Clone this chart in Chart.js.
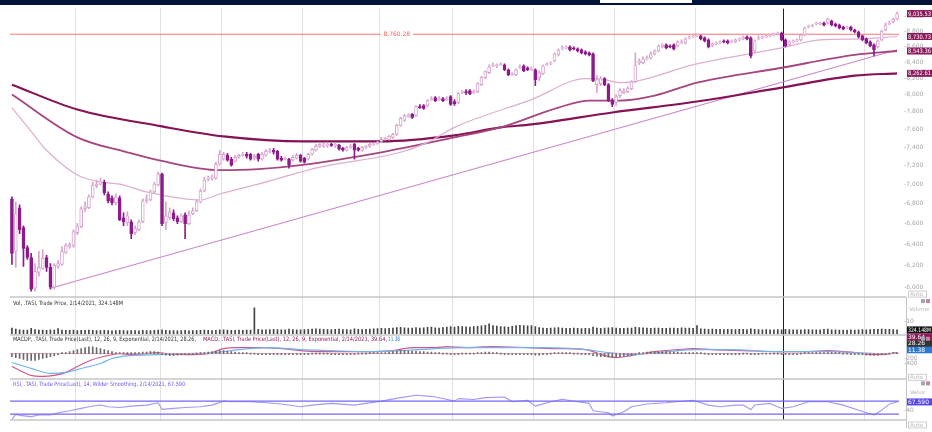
<!DOCTYPE html>
<html>
<head>
<meta charset="utf-8">
<title>.TASI daily</title>
<script src="https://cdn.jsdelivr.net/npm/chart.js@4.4.1/dist/chart.umd.min.js"></script>
<style>
  html, body { margin: 0; padding: 0; background: #fff; }
  #box { position: relative; width: 932px; height: 432px; overflow: hidden; }
  #chart { display: block; }
  #bar { position: absolute; left: 0; top: 0; width: 932px; height: 5px; background: #02133a; }
  #tab { position: absolute; left: 600px; top: 0; width: 92px; height: 3px; background: #fff; }
</style>
</head>
<body>
<div id="box">
  <canvas id="chart" width="932" height="432"></canvas>
  <div id="bar"></div><div id="tab"></div>
</div>
<script>
// .TASI daily candles, Mar 2020 - 2/14/2021
var open = [6848,6330,6757,6559,6367,6273,5991,6135,6172,6273,
 6181,6000,6190,6208,6320,6377,6386,6510,6569,6747,
 6757,6868,6981,7001,7022,6898,6858,6807,6858,6657,
 6608,6617,6510,6539,6617,6827,6837,6919,6991,7106,
 6608,6657,6707,6657,6617,6687,6598,6697,6727,6817,
 6929,7053,7064,7064,7212,7266,7310,7266,7245,7288,
 7310,7321,7321,7277,7321,7266,7310,7353,7364,7353,
 7277,7266,7266,7256,7277,7310,7277,7266,7321,7364,
 7408,7408,7419,7430,7419,7419,7386,7364,7397,7430,
 7386,7364,7397,7408,7430,7441,7463,7486,7486,7508,
 7542,7643,7701,7747,7770,7758,7862,7874,7874,7944,
 7968,7944,7956,7944,7980,7921,7909,8028,8040,8052,
 8028,8040,8124,8209,8271,8357,8357,8369,8369,8307,
 8246,8246,8332,8357,8332,8307,8307,8209,8258,8369,
 8381,8419,8494,8571,8583,8596,8583,8571,8558,8532,
 8520,8507,8124,8136,8197,8124,7933,7909,7992,8028,
 8040,8076,8161,8394,8394,8444,8457,8507,8545,8596,
 8622,8609,8622,8609,8647,8647,8712,8725,8738,8738,
 8712,8686,8609,8634,8647,8673,8673,8660,8660,8686,
 8699,8725,8712,8545,8699,8712,8725,8738,8751,8764,
 8777,8686,8622,8660,8673,8686,8751,8856,8869,8896,
 8896,8909,8909,8935,8896,8882,8856,8843,8856,8816,
 8790,8738,8699,8660,8622,8596,8686,8816,8896,8922,8962];
var high = [6868,6817,6787,6578,6386,6311,6217,6330,6348,6292,
 6217,6217,6246,6377,6405,6415,6539,6598,6767,6817,
 6888,7022,7043,7064,7043,6919,6878,6898,6878,6707,
 6717,6637,6578,6637,6848,6888,6939,7022,7127,7117,
 6817,6757,6737,6677,6697,6707,6727,6757,6837,6950,
 7075,7085,7096,7234,7364,7342,7331,7288,7310,7321,
 7342,7342,7331,7321,7331,7342,7375,7386,7386,7364,
 7299,7288,7277,7310,7331,7321,7288,7331,7386,7430,
 7452,7441,7452,7441,7452,7430,7397,7408,7430,7441,
 7397,7408,7419,7441,7452,7463,7508,7508,7530,7553,
 7655,7735,7770,7781,7781,7874,7886,7886,7944,7980,
 7980,7980,7968,7980,7992,7944,8028,8052,8064,8064,
 8064,8148,8222,8295,8369,8394,8381,8394,8381,8320,
 8271,8320,8369,8369,8344,8344,8320,8295,8369,8394,
 8406,8520,8571,8609,8609,8609,8596,8583,8571,8545,
 8532,8520,8234,8222,8209,8136,7956,8004,8076,8076,
 8100,8173,8520,8444,8469,8482,8532,8558,8622,8634,
 8634,8622,8634,8673,8686,8712,8738,8751,8764,8751,
 8725,8699,8647,8660,8673,8686,8686,8686,8699,8712,
 8738,8738,8725,8686,8738,8738,8751,8764,8777,8790,
 8790,8699,8673,8686,8699,8764,8856,8882,8896,8922,
 8922,8922,8975,8949,8909,8896,8869,8869,8869,8829,
 8803,8751,8712,8673,8634,8686,8816,8909,8935,8975,9055];
var low = [6208,6181,6500,6190,6255,5964,5964,6099,6162,6144,
 5982,5982,6172,6199,6311,6358,6367,6491,6559,6717,
 6747,6858,6960,6991,6888,6807,6787,6787,6627,6578,
 6578,6453,6491,6530,6608,6807,6827,6909,6981,6578,
 6539,6637,6627,6598,6608,6453,6588,6687,6717,6807,
 6919,7033,7043,7053,7202,7256,7245,7191,7234,7277,
 7299,7277,7256,7256,7245,7256,7299,7331,7321,7256,
 7245,7256,7170,7245,7266,7234,7223,7256,7310,7353,
 7397,7397,7397,7408,7397,7364,7353,7353,7386,7266,
 7353,7353,7386,7397,7419,7430,7452,7475,7475,7497,
 7530,7632,7689,7735,7724,7747,7839,7827,7862,7933,
 7921,7933,7921,7933,7874,7874,7897,8016,8004,8004,
 8016,8028,8112,8197,8258,8344,8332,8357,8295,8234,
 8234,8234,8320,8283,8295,8295,8112,8173,8246,8357,
 8369,8406,8482,8558,8571,8545,8558,8532,8507,8494,
 8482,8161,8028,8112,8112,7921,7862,7874,7968,8016,
 8028,8064,8148,8369,8381,8431,8444,8494,8532,8583,
 8571,8583,8558,8596,8634,8634,8699,8712,8725,8686,
 8660,8583,8596,8622,8634,8647,8634,8647,8647,8673,
 8686,8686,8457,8520,8686,8699,8712,8725,8738,8751,
 8673,8596,8609,8647,8660,8673,8738,8843,8856,8882,
 8882,8869,8896,8869,8856,8829,8816,8829,8803,8777,
 8712,8673,8634,8596,8482,8583,8673,8803,8882,8909,8949];
var close = [6311,6697,6539,6358,6273,5982,6144,6181,6264,6181,
 6000,6199,6217,6330,6386,6396,6520,6569,6747,6767,
 6868,6991,7001,7033,6909,6827,6807,6868,6637,6617,
 6677,6500,6549,6617,6827,6848,6919,7001,7106,6598,
 6677,6717,6647,6617,6677,6598,6687,6727,6817,6929,
 7043,7064,7075,7212,7321,7321,7256,7202,7288,7310,
 7321,7299,7266,7299,7266,7321,7353,7364,7342,7266,
 7256,7277,7202,7288,7310,7245,7234,7321,7375,7408,
 7430,7419,7430,7419,7430,7375,7364,7397,7408,7364,
 7364,7397,7408,7430,7441,7452,7486,7497,7519,7542,
 7643,7724,7758,7758,7735,7862,7850,7839,7933,7956,
 7933,7956,7933,7956,7886,7897,8016,8040,8028,8016,
 8040,8136,8209,8283,8344,8369,8369,8381,8307,8246,
 8258,8307,8344,8295,8307,8320,8185,8271,8357,8381,
 8394,8507,8558,8583,8596,8558,8571,8545,8520,8507,
 8494,8173,8185,8197,8124,7933,7886,7980,8052,8052,
 8076,8161,8369,8419,8444,8457,8507,8545,8609,8622,
 8583,8596,8571,8660,8660,8699,8725,8738,8751,8699,
 8673,8596,8634,8647,8660,8660,8647,8673,8686,8699,
 8725,8699,8482,8673,8712,8725,8738,8751,8764,8777,
 8686,8609,8660,8673,8686,8751,8843,8869,8882,8909,
 8909,8882,8962,8882,8869,8843,8829,8856,8816,8790,
 8725,8686,8647,8609,8558,8673,8803,8882,8909,8962,9035.53];

// volume in millions
var volume = [480,390,340,300,310,450,360,300,310,290,
 330,310,430,300,290,280,300,270,290,280,
 300,290,270,260,280,270,250,260,280,260,
 250,270,260,250,280,260,270,280,300,330,
 290,270,260,250,260,280,250,260,270,290,
 300,280,270,290,330,320,300,290,280,300,
 290,310,300,2170,380,340,330,350,380,360,
 340,330,400,350,330,340,360,380,400,420,
 400,380,360,350,370,390,360,350,340,420,
 370,360,380,400,420,430,460,440,450,480,
 520,540,500,480,470,520,480,500,540,560,
 500,480,520,560,600,560,620,600,580,560,
 600,620,660,700,830,680,640,600,580,560,
 620,690,700,680,660,690,600,520,480,460,
 470,500,520,480,460,450,470,460,440,450,
 430,560,480,460,470,500,520,480,460,450,
 470,480,560,520,500,480,460,470,480,460,
 450,470,480,460,500,480,470,460,690,420,
 400,380,390,370,380,360,370,380,360,370,
 380,360,420,380,350,340,360,330,340,350,
 320,380,350,330,320,340,360,350,330,320,
 340,380,390,340,320,310,300,310,320,300,
 330,350,340,360,380,370,390,380,370,360,324.148];

// MACD(12,26,9)
var macdHist = [-120,-160,-200,-240,-280,-280,-280,-240,-200,-160,
 -120,-80,-40,20,40,80,120,160,200,240,
 270,270,240,200,160,120,80,40,40,40,
 20,20,40,40,60,60,80,80,60,-40,
 -60,-80,-80,-60,-40,-40,-20,-20,0,20,
 40,60,80,100,120,120,100,80,60,40,
 20,20,0,0,-20,-20,-20,-20,-40,-40,
 -40,-40,-40,-20,-20,-20,-20,-20,0,0,
 0,0,0,-20,-20,-20,-20,-20,-20,-20,
 0,0,0,20,20,20,40,40,60,80,
 100,120,120,100,100,100,80,80,60,60,
 40,20,0,0,-20,-20,-20,0,0,0,
 0,20,40,60,60,40,20,0,-20,-40,
 -40,-40,-40,-40,-40,-40,-60,-60,-40,-20,
 0,20,20,20,20,20,0,0,-20,-20,
 -40,-80,-100,-120,-120,-140,-160,-140,-120,-100,
 -80,-60,-20,20,40,60,60,80,80,80,
 80,60,60,60,40,40,40,40,40,20,
 0,-20,-20,-20,-20,-20,-20,-20,-20,-20,
 0,0,-20,-20,-20,0,0,0,0,0,
 -20,-20,-20,-20,-20,0,20,20,40,40,
 40,40,40,40,20,20,0,0,-20,-20,
 -40,-40,-60,-60,-60,-60,-40,-20,0,20,28.26];
var macdLine = [[0,-520],[2,-680],[5,-880],[8,-920],[11,-880],[14,-760],[17,-520],[21,-240],
 [25,-80],[28,0],[31,-40],[35,0],[38,40],[40,0],[45,-40],[51,0],[55,200],[59,240],[64,240],
 [70,200],[75,120],[80,80],[85,80],[92,80],[99,120],[104,240],[110,240],[113,280],[118,240],
 [125,280],[134,240],[142,200],[149,160],[154,-80],[157,-160],[161,-80],[167,80],[173,160],
 [177,200],[182,160],[190,120],[199,80],[207,80],[212,120],[219,40],[223,-40],[226,-40],[230,39.64]];
var signalLine = [[0,-360],[5,-600],[10,-800],[14,-760],[19,-560],[23,-400],[26,-200],[31,-80],
 [38,-40],[45,0],[53,40],[59,160],[66,240],[75,160],[83,120],[92,80],[101,120],[110,200],
 [118,240],[125,240],[138,240],[149,160],[155,40],[161,-40],[168,40],[177,160],[186,160],
 [199,80],[212,80],[220,40],[226,0],[230,11.38]];

// RSI(14)
var rsiLine = [[0,14],[1,29],[2,26],[5,22],[7,27],[10,27],[12,34],[15,40],[18,47.5],[20,52.5],
 [23,58],[25,52.5],[28,50.5],[31,54.6],[35,57.7],[38,64.8],[39,44.5],[42,47.5],[45,50.5],
 [49,52.5],[52,57.7],[55,70],[57,68],[62,68],[66,65],[70,61],[75,52.5],[78,57.7],[83,63],
 [89,57.7],[92,63],[96,70],[101,81],[105,88.5],[109,85],[112,78],[115,70],[116,78],[120,75],
 [123,81],[128,83],[130,68],[134,73],[136,54.6],[140,68],[143,76],[147,68],[150,63],[151,40],
 [155,34],[156,24],[159,37],[161,52.5],[165,61],[170,65],[177,73],[181,57.7],[184,52.5],
 [188,57.7],[190,58],[192,44],[193,58],[197,63],[200,47.5],[203,52.5],[207,68],[212,68],
 [216,57.7],[220,42],[224,27],[226,42],[228,61],[230,67.59]];
var rsiLevels = [70, 30];

// moving averages and drawn lines
var ma50 = [[0,7850],[5,7575],[9,7364],[17,7096],[23,7022],[28,7001],[35,6919],[49,6837],[54,6898],
 [64,7001],[75,7127],[80,7180],[101,7342],[108,7452],[115,7621],[135,7944],[149,8197],[154,8185],
 [158,8148],[178,8381],[200,8583],[210,8686],[221,8699],[230,8730.73]];
var ma100 = [[0,8004],[17,7508],[30,7342],[38,7256],[54,7148],[64,7159],[75,7202],[96,7342],
 [115,7508],[127,7621],[142,7850],[150,7933],[158,7933],[167,7992],[178,8148],[200,8332],
 [219,8494],[230,8543.36]];
var ma200 = [[0,8124],[17,7827],[39,7632],[55,7519],[76,7463],[96,7463],[115,7530],[127,7621],
 [135,7655],[156,7793],[178,7921],[200,8088],[219,8234],[230,8262.61]];
var trendLine = [[10,5991],[230,8560]];
var resistance = 8760.28;
var resLabelAt = 100;

var monthStarts = [17, 39, 55, 76, 96, 115, 136, 157, 178, 222];
var yearStart = 201;
var lastDate = '2/14/2021';
var priceTicks = [6000,6200,6400,6600,6800,7000,7200,7400,7600,7800,8000,8200,8400,8600,8800,9000];
var volTicks = [1000];
var macdTicks = [-200, -400];
var rsiTicks = [40];

var upCol = '#d8a4cd', downCol = '#8e1b8b';
var xMin = -0.5, xMax = close.length - 0.5;
var last = close.length - 1;

function pts(a) { return a.map(function (p) { return {x: p[0], y: p[1]}; }); }
function level(v) { return [{x: xMin, y: v}, {x: xMax, y: v}]; }
function money(v) { return v.toLocaleString('en-US', {minimumFractionDigits: 2, maximumFractionDigits: 2}); }
function lastOf(a) { return a[a.length - 1][1]; }

var bodies = close.map(function (c, i) { return {x: i, y: [open[i], c]}; });
var wicks = close.map(function (c, i) { return {x: i, y: [low[i], high[i]]}; });
var isUp = close.map(function (c, i) { return c > open[i]; });

Chart.defaults.font.family = '"DejaVu Sans", sans-serif';

var overlay = {
  id: 'overlay',
  beforeDatasetsDraw: function (chart) {
    var ctx = chart.ctx, a = chart.chartArea, s = chart.scales;
    ctx.save();
    ctx.strokeStyle = '#c6c6c6';
    ctx.lineWidth = 1.5;
    ['yPrice', 'yVol', 'yMacd', 'yRsi'].forEach(function (id) {
      var y = Math.round(s[id].bottom);
      ctx.beginPath(); ctx.moveTo(a.left, y); ctx.lineTo(a.right + 7, y); ctx.stroke();
    });
    ctx.lineWidth = 1;
    ctx.beginPath(); ctx.moveTo(a.right + 7.5, s.yVol.top); ctx.lineTo(a.right + 7.5, chart.height - 4); ctx.stroke();
    ctx.restore();
  },
  afterDraw: function (chart) {
    var ctx = chart.ctx, a = chart.chartArea, s = chart.scales;
    var tx = a.right + 8, tw = chart.width - tx;
    ctx.save();
    ctx.textBaseline = 'middle';
    ctx.font = '6px "DejaVu Sans"';

    // resistance label
    var rx = s.x.getPixelForValue(resLabelAt), ry = s.yPrice.getPixelForValue(resistance);
    var rt = money(resistance), rw = ctx.measureText(rt).width + 6;
    ctx.fillStyle = '#fff'; ctx.fillRect(rx - rw / 2, ry - 3, rw, 6);
    ctx.fillStyle = '#ff5c5c'; ctx.textAlign = 'center'; ctx.fillText(rt, rx, ry + 0.5);

    function tag(text, y, bg, fg) {
      ctx.fillStyle = bg; ctx.fillRect(tx, y - 3.5, tw, 7);
      ctx.fillStyle = fg; ctx.textAlign = 'left';
      ctx.fillText(text, tx + 1, y + 0.5, tw - 2);
    }
    tag(money(close[last]), s.yPrice.getPixelForValue(close[last]), '#8a1a5c', '#fff');
    tag(money(lastOf(ma50)), s.yPrice.getPixelForValue(lastOf(ma50)), '#8a1a5c', '#fff');
    tag(money(lastOf(ma100)), s.yPrice.getPixelForValue(lastOf(ma100)), '#8a1a5c', '#fff');
    tag(money(lastOf(ma200)), s.yPrice.getPixelForValue(lastOf(ma200)), '#8a1a5c', '#fff');
    tag(volume[last].toFixed(3) + 'M', s.yVol.getPixelForValue(volume[last]), '#111', '#fff');
    var my = s.yMacd.getPixelForValue(lastOf(signalLine)) - 3.5;
    tag(lastOf(signalLine).toFixed(2), my, '#2b79d2', '#fff');
    tag(macdHist[last].toFixed(2), my - 6.5, '#333', '#fff');
    tag(lastOf(macdLine).toFixed(2), my - 13, '#8a1a5c', '#fff');
    tag(lastOf(rsiLine).toFixed(3), s.yRsi.getPixelForValue(lastOf(rsiLine)), '#5544f2', '#fff');

    // panel titles
    function txt(str, x, y, color, maxW) {
      ctx.fillStyle = color; ctx.textAlign = 'left'; ctx.fillText(str, x, y, maxW);
    }
    ctx.font = '6px "DejaVu Sans"';
    txt('Vol, .TASI, Trade Price, ' + lastDate + ', ' + volume[last].toFixed(3) + 'M',
      a.left + 3, s.yVol.top + 6, '#333', 110);
    txt('MACDP, .TASI, Trade Price(Last), 12, 26, 9, Exponential, ' + lastDate + ', ' + macdHist[last].toFixed(2) + ',',
      a.left + 3, s.yMacd.top + 5, '#333', 183);
    txt('MACD, .TASI, Trade Price(Last), 12, 26, 9, Exponential, ' + lastDate + ', ' + lastOf(macdLine).toFixed(2) + ',',
      a.left + 193, s.yMacd.top + 5, '#9a2060', 184);
    txt(lastOf(signalLine).toFixed(2), a.left + 378, s.yMacd.top + 5, '#2b79d2', 12);
    txt('RSI, .TASI, Trade Price(Last), 14, Wilder Smoothing, ' + lastDate + ', ' + lastOf(rsiLine).toFixed(3),
      a.left + 3, s.yRsi.top + 5, '#6a5cf6', 172);

    // right side captions and Auto boxes
    ctx.font = '5.5px "DejaVu Sans"';
    txt('Volume', tx + 2, s.yVol.top + 13, '#b8b8b8', 22);
    txt('Value', tx + 3, s.yRsi.top + 13, '#b8b8b8', 20);
    [s.yPrice.bottom - 3, s.yMacd.bottom - 2, s.yRsi.bottom + 5].forEach(function (y) {
      ctx.strokeStyle = '#cfcfcf'; ctx.lineWidth = 1;
      ctx.strokeRect(tx + 1.5, y - 3, 18, 6);
      txt('Auto', tx + 3, y + 0.5, '#b8b8b8', 16);
    });
    [s.yVol.top + 4, s.yMacd.top + 4, s.yRsi.top + 4].forEach(function (y) {
      ctx.fillStyle = '#9aa6ba'; ctx.fillRect(tx + 14, y - 2, 4, 4);
      ctx.fillStyle = '#c98590'; ctx.fillRect(tx + 19, y - 2, 4, 4);
    });
    ctx.restore();
  }
};

// right axes share one stack; on the right side a lower weight goes on top
function rightAxis(weight, stackWeight, extra) {
  var base = {
    axis: 'y', position: 'right', stack: 'panels', stackWeight: stackWeight, weight: weight,
    border: {display: false},
    grid: {drawOnChartArea: false, drawTicks: false},
    afterFit: function (sc) { sc.width = 33; }
  };
  return Object.assign(base, extra);
}
function tickOpts(cb) {
  return {color: '#a6a6a6', font: {size: 6}, padding: 5, autoSkip: false, callback: cb};
}

var lineBase = {type: 'line', pointRadius: 0, borderJoinStyle: 'round', fill: false};

new Chart(document.getElementById('chart'), {
  type: 'bar',
  data: {
    datasets: [
      {type: 'bar', label: 'body', yAxisID: 'yPrice', data: bodies, grouped: false, order: 0,
        barThickness: 3, minBarLength: 1, borderWidth: 1, borderSkipped: false,
        backgroundColor: isUp.map(function (u) { return u ? '#ffffff' : downCol; }),
        borderColor: isUp.map(function (u) { return u ? upCol : downCol; })},
      {type: 'bar', label: 'wick', yAxisID: 'yPrice', data: wicks, grouped: false, order: 1,
        barThickness: 1, backgroundColor: isUp.map(function (u) { return u ? upCol : downCol; })},
      Object.assign({}, lineBase, {label: 'MA50', yAxisID: 'yPrice', data: pts(ma50), order: 2,
        borderColor: '#dcafcf', borderWidth: 1.2, cubicInterpolationMode: 'monotone'}),
      Object.assign({}, lineBase, {label: 'MA100', yAxisID: 'yPrice', data: pts(ma100), order: 2,
        borderColor: '#a6457f', borderWidth: 1.8, cubicInterpolationMode: 'monotone'}),
      Object.assign({}, lineBase, {label: 'MA200', yAxisID: 'yPrice', data: pts(ma200), order: 2,
        borderColor: '#871253', borderWidth: 2.1, cubicInterpolationMode: 'monotone'}),
      Object.assign({}, lineBase, {label: 'trend', yAxisID: 'yPrice', data: pts(trendLine), order: 2,
        borderColor: '#c988cc', borderWidth: 1.1}),
      Object.assign({}, lineBase, {label: 'res', yAxisID: 'yPrice', data: level(resistance), order: 2,
        borderColor: '#ff7474', borderWidth: 1}),
      {type: 'bar', label: 'vol', yAxisID: 'yVol', grouped: false, barThickness: 1,
        data: volume.map(function (v, i) { return {x: i, y: v}; }), backgroundColor: '#444'},
      {type: 'bar', label: 'hist', yAxisID: 'yMacd', grouped: false, barThickness: 1, minBarLength: 1,
        data: macdHist.map(function (v, i) { return {x: i, y: v}; }), backgroundColor: '#6a6a6a'},
      Object.assign({}, lineBase, {label: 'zero', yAxisID: 'yMacd', data: level(0),
        borderColor: '#f2a6bd', borderWidth: 1}),
      Object.assign({}, lineBase, {label: 'signal', yAxisID: 'yMacd', data: pts(signalLine),
        borderColor: '#72b4ea', borderWidth: 1.2, cubicInterpolationMode: 'monotone'}),
      Object.assign({}, lineBase, {label: 'macd', yAxisID: 'yMacd', data: pts(macdLine),
        borderColor: '#d0568f', borderWidth: 1.2, cubicInterpolationMode: 'monotone'}),
      Object.assign({}, lineBase, {label: 'rsi70', yAxisID: 'yRsi', data: level(rsiLevels[0]),
        borderColor: '#7466f2', borderWidth: 1.2}),
      Object.assign({}, lineBase, {label: 'rsi30', yAxisID: 'yRsi', data: level(rsiLevels[1]),
        borderColor: '#7466f2', borderWidth: 1.2}),
      Object.assign({}, lineBase, {label: 'rsi', yAxisID: 'yRsi', data: pts(rsiLine),
        borderColor: '#a597f6', borderWidth: 1.1})
    ]
  },
  options: {
    responsive: false,
    devicePixelRatio: 1,
    animation: false,
    events: [],
    layout: {padding: {left: 10, top: 5, right: 0, bottom: 12}},
    plugins: {legend: {display: false}, tooltip: {enabled: false}},
    scales: {
      x: {
        type: 'linear', axis: 'x', position: 'bottom', min: xMin, max: xMax, offset: false,
        ticks: {display: false},
        border: {display: false, dash: [1, 1]},
        grid: {color: '#c2c2c2', lineWidth: 1, drawTicks: false, offset: false},
        afterBuildTicks: function (sc) { sc.ticks = monthStarts.map(function (m) { return {value: m - 0.5}; }); }
      },
      x2: {
        type: 'linear', axis: 'x', position: 'bottom', min: xMin, max: xMax, offset: false,
        ticks: {display: false},
        border: {display: false},
        grid: {color: '#222', lineWidth: 1, drawTicks: false, offset: false},
        afterBuildTicks: function (sc) { sc.ticks = [{value: yearStart - 0.5}]; }
      },
      yPrice: rightAxis(1, 291, {
        type: 'logarithmic', min: 5912, max: 9103,
        afterBuildTicks: function (sc) { sc.ticks = priceTicks.map(function (v) { return {value: v}; }); },
        ticks: tickOpts(function (v) { return '-' + Number(v).toLocaleString('en-US'); })
      }),
      yVol: rightAxis(2, 38, {
        type: 'linear', min: -83, max: 3083,
        afterBuildTicks: function (sc) { sc.ticks = volTicks.map(function (v) { return {value: v}; }); },
        ticks: tickOpts(function (v) { return '-' + (v / 100); })
      }),
      yMacd: rightAxis(3, 45, {
        type: 'linear', min: -1040, max: 760,
        afterBuildTicks: function (sc) { sc.ticks = macdTicks.map(function (v) { return {value: v}; }); },
        ticks: tickOpts(function (v) { return String(v); })
      }),
      yRsi: rightAxis(4, 41, {
        type: 'linear', min: 11.5, max: 137.7,
        afterBuildTicks: function (sc) { sc.ticks = rsiTicks.map(function (v) { return {value: v}; }); },
        ticks: tickOpts(function (v) { return '-' + v; })
      })
    }
  },
  plugins: [overlay]
});
</script>
</body>
</html>
